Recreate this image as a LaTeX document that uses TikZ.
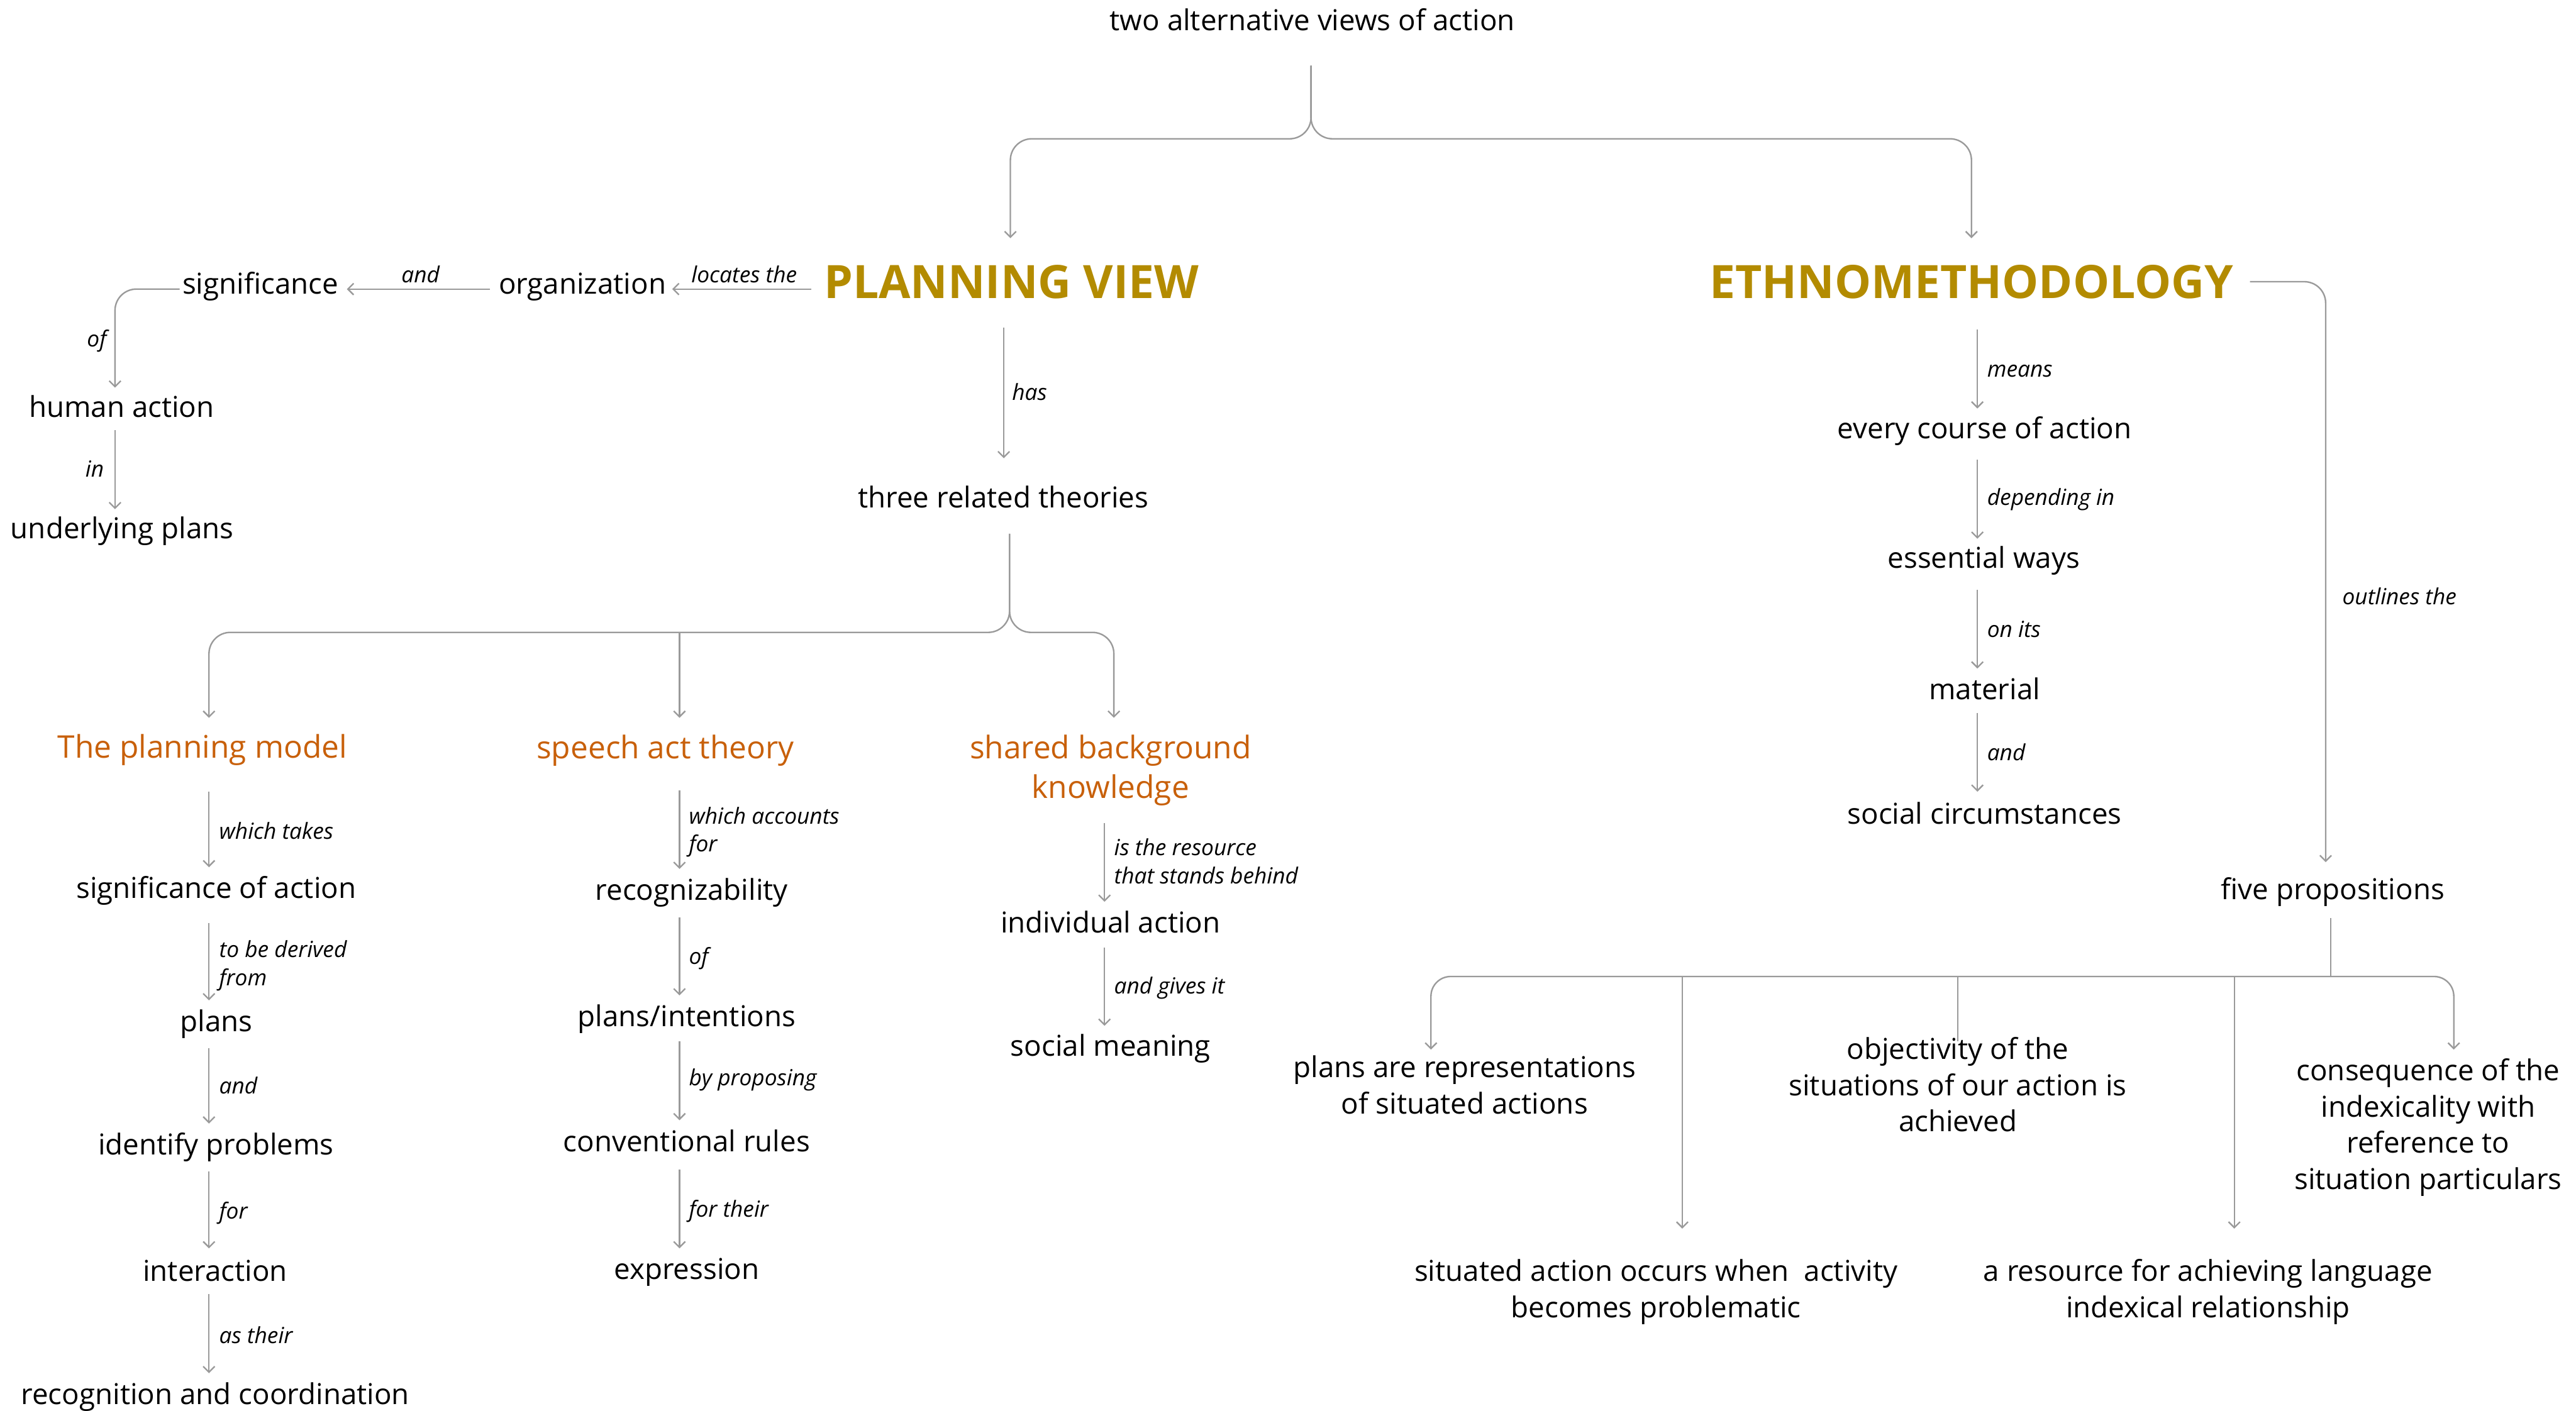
\documentclass[tikz,border=0pt]{standalone}
\usepackage{fontspec}
\setmainfont{Open Sans}
\usetikzlibrary{arrows.meta}
\definecolor{gold}{HTML}{B38B00}
\definecolor{rust}{HTML}{C8600A}
\definecolor{wire}{HTML}{9A9A9A}

\tikzset{
  main/.style={inner sep=0pt, anchor=base, align=center,
    font=\fontsize{17.5}{22}\selectfont},
  head/.style={inner sep=0pt, anchor=base, text=gold,
    font=\fontsize{28}{34}\selectfont\bfseries, text height=20pt, text depth=0pt},
  theory/.style={inner sep=0pt, anchor=base, align=center, text=rust,
    font=\fontsize{19}{24}\selectfont},
  lbl/.style={inner sep=0pt, anchor=base west, align=left,
    font=\fontsize{13.5}{17}\selectfont\itshape},
  lblr/.style={lbl, anchor=base east},
  wireline/.style={draw=wire, line width=0.9pt},
  conn/.style={wireline, -{Straight Barb[length=3.5pt,width=7pt]},
    shorten >=19pt},
  elbow/.style={rounded corners=13pt},
}

\begin{document}
\begin{tikzpicture}[x=1pt, y=-1pt]
\useasboundingbox (0,0) rectangle (1568,859);
\fill[white] (0,0) rectangle (1568,859);

% ---- columns and bus rows
\coordinate (cTop) at (798,0);
\coordinate (cPV)  at (615,0);
\coordinate (cET)  at (1200,0);
\coordinate (cHA)  at (70,0);
\coordinate (cHas) at (611,0);
\coordinate (cTrt) at (614.5,0);
\coordinate (cPM)  at (127.2,0);
\coordinate (cSA)  at (413.6,0);
\coordinate (cSB)  at (672.3,0);
\coordinate (cSBb) at (678,0);
\coordinate (cEM)  at (1203.6,0);
\coordinate (cOut) at (1415.6,0);
\coordinate (cFP)  at (1418.7,0);
\coordinate (cB1)  at (871,0);
\coordinate (cB2)  at (1024,0);
\coordinate (cB3)  at (1191.8,0);
\coordinate (cB4)  at (1360,0);
\coordinate (cB5)  at (1493.6,0);
\coordinate (busTop) at (0,84.5);
\coordinate (busMid) at (0,385);
\coordinate (busBot) at (0,594.5);
\coordinate (rowA)   at (0,176);

% ---- nodes (multi-line nodes sit on the baseline of their last line)
\node[main] (top) at (798.9,18.5) {two alternative views of action};
\node[head] (pv)  at (615.6,181.5) {PLANNING VIEW};
\node[head] (eth) at (1200,181.5) {ETHNOMETHODOLOGY};

\node[main] (org) at (354.5,179) {organization};
\node[main] (sig) at (158.5,179) {significance};
\node[main] (ha)  at (74,254) {human action};
\node[main] (up)  at (74.3,328) {underlying plans};

\node[main] (trt) at (610.7,309) {three related theories};

\node[theory] (pm)  at (123.2,461.5) {The planning model};
\node[theory] (sat) at (405,462) {speech act theory};
\node[theory] (sbk) at (676,486) {shared background\\knowledge};

\node[main] (soa)   at (131.6,547) {significance of action};
\node[main] (plans) at (131.8,628) {plans};
\node[main] (idp)   at (131.5,703) {identify problems};
\node[main] (inter) at (131,780) {interaction};
\node[main] (rc)    at (131,855) {recognition and coordination};

\node[main] (rec) at (421,548) {recognizability};
\node[main] (pi)  at (418,625) {plans/intentions};
\node[main] (cr)  at (418,701) {conventional rules};
\node[main] (ex)  at (418,779) {expression};

\node[main] (ia) at (676,568) {individual action};
\node[main] (sm) at (676,643) {social meaning};

\node[main] (ecoa) at (1208,267) {every course of action};
\node[main] (ew)   at (1207.5,346) {essential ways};
\node[main] (mat)  at (1208,426) {material};
\node[main] (sc)   at (1208,501.6) {social circumstances};

\node[main] (fp) at (1420,547.5) {five propositions};
\node[main] (p1) at (891.5,678) {plans are representations\\of situated actions};
\node[main] (p2) at (1008,802) {situated action occurs when\ \ activity\\becomes problematic};
\node[main] (p3) at (1191.7,689) {objectivity of the\\situations of our action is\\achieved};
\node[main] (p4) at (1344,802) {a resource for achieving language\\indexical relationship};
\node[main] (p5) at (1478,724) {consequence of the\\indexicality with\\reference to\\situation particulars};

% ---- top split
\draw[conn, elbow, shorten <=21.5pt, shorten >=36.5pt]
  (top.base -| cTop) -- (cTop |- busTop) -- (cPV |- busTop) -- (pv.base -| cPV);
\draw[conn, elbow, shorten <=21.5pt, shorten >=36.5pt]
  (top.base -| cTop) -- (cTop |- busTop) -- (cET |- busTop) -- (eth.base -| cET);

% ---- planning view, leftwards
\draw[conn, shorten <=7.5pt, shorten >=3.5pt] (pv.west |- rowA) -- (org.east |- rowA);
\node[lbl, anchor=base] (lLoc) at (453,172) {locates the};
\draw[conn, shorten <=5pt, shorten >=5pt] (org.west |- rowA) -- (sig.east |- rowA);
\node[lbl, anchor=base] (lAnd0) at (256,172) {and};
\draw[conn, elbow, shorten <=1.5pt, shorten >=18pt] (sig.west |- rowA) -| (ha.base -| cHA);
\node[lblr] (lOf0) at (65,211) {of};
\draw[conn, shorten <=8pt, shorten >=18pt] (ha.base -| cHA) -- (up.base -| cHA);
\node[lblr] (lIn0) at (63.4,290.5) {in};

% ---- planning view, downwards
\draw[conn, shorten <=18pt, shorten >=30pt] (pv.base -| cHas) -- (trt.base -| cHas);
\node[lbl] (lHas) at (615.9,243.5) {has};

\draw[conn, elbow, shorten <=16pt, shorten >=24.5pt]
  (trt.base -| cTrt) -- (cTrt |- busMid) -- (cPM |- busMid) -- (pm.base -| cPM);
\draw[conn, elbow, shorten <=16pt, shorten >=49pt]
  (trt.base -| cTrt) -- (cTrt |- busMid) -- (cSBb |- busMid) -- (sbk.base -| cSBb);
\draw[conn, shorten >=25pt] (cSA |- busMid) -- (sat.base -| cSA);

% ---- the planning model
\draw[conn, shorten <=20.5pt] (pm.base -| cPM) -- (soa.base -| cPM);
\node[lbl] (l1) at (133.3,511) {which takes};
\draw[conn, shorten <=15pt] (soa.base -| cPM) -- (plans.base -| cPM);
\node[lbl] (l2) at (133.3,600) {to be derived\\from};
\draw[conn, shorten <=10pt] (plans.base -| cPM) -- (idp.base -| cPM);
\node[lbl] (l3) at (133.3,666) {and};
\draw[conn, shorten <=10pt, shorten >=20pt] (idp.base -| cPM) -- (inter.base -| cPM);
\node[lbl] (l4) at (133.3,742) {for};
\draw[conn, shorten <=8pt] (inter.base -| cPM) -- (rc.base -| cPM);
\node[lbl] (l5) at (133.3,818) {as their};

% ---- speech act theory
\draw[conn, shorten <=19pt] (sat.base -| cSA) -- (rec.base -| cSA);
\node[lbl] (l6) at (419.2,518.5) {which accounts\\for};
\draw[conn, shorten <=10.5pt] (rec.base -| cSA) -- (pi.base -| cSA);
\node[lbl] (l7) at (419.2,587) {of};
\draw[conn, shorten <=9pt] (pi.base -| cSA) -- (cr.base -| cSA);
\node[lbl] (l8) at (419.2,661) {by proposing};
\draw[conn, shorten <=11pt] (cr.base -| cSA) -- (ex.base -| cSA);
\node[lbl] (l9) at (419.2,741) {for their};

% ---- shared background knowledge
\draw[conn, shorten <=15pt] (sbk.base -| cSB) -- (ia.base -| cSB);
\node[lbl] (l10) at (678,538) {is the resource\\that stands behind};
\draw[conn, shorten <=9pt, shorten >=18.5pt] (ia.base -| cSB) -- (sm.base -| cSB);
\node[lbl] (l11) at (678,605) {and gives it};

% ---- ethnomethodology
\draw[conn, shorten <=19.2pt, shorten >=18.3pt] (eth.base -| cEM) -- (ecoa.base -| cEM);
\node[lbl] (l12) at (1209.4,229.4) {means};
\draw[conn, shorten <=13pt, shorten >=18pt] (ecoa.base -| cEM) -- (ew.base -| cEM);
\node[lbl] (l13) at (1209.4,307.5) {depending in};
\draw[conn, shorten <=13pt] (ew.base -| cEM) -- (mat.base -| cEM);
\node[lbl] (l14) at (1209.4,388) {on its};
\draw[conn, shorten <=8pt, shorten >=19.6pt] (mat.base -| cEM) -- (sc.base -| cEM);
\node[lbl] (l15) at (1209.4,463) {and};

\draw[conn, elbow, shorten <=10pt, shorten >=22.6pt] (eth.east) -| (fp.base -| cOut);
\node[lbl] (l16) at (1425.6,368) {outlines the};

% ---- five propositions
\draw[wireline, shorten <=11.5pt] (fp.base -| cFP) -- (cFP |- busBot);
\draw[conn, rounded corners=12pt, shorten >=39pt]
  (cFP |- busBot) -- (cB1 |- busBot) -- (p1.base -| cB1);
\draw[conn, rounded corners=12pt, shorten >=85pt]
  (cFP |- busBot) -- (cB5 |- busBot) -- (p5.base -| cB5);
\draw[conn, shorten >=54pt] (cB2 |- busBot) -- (p2.base -| cB2);
\draw[wireline, shorten >=55pt] (cB3 |- busBot) -- (p3.base -| cB3);
\draw[conn, shorten >=54pt] (cB4 |- busBot) -- (p4.base -| cB4);
\end{tikzpicture}
\end{document}
